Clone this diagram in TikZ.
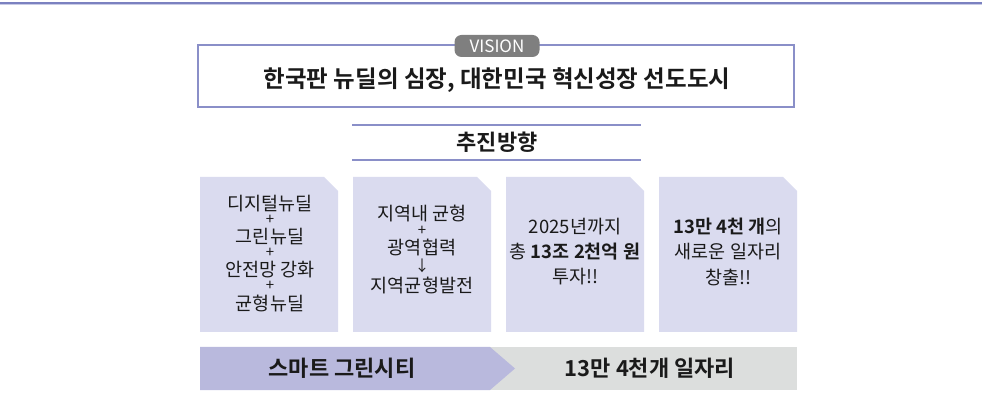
\documentclass[tikz,border=0pt]{standalone}
\usepackage{fontspec}
\setmainfont{Noto Sans CJK KR}[BoldFont={Noto Sans CJK KR Bold}]
\definecolor{rule}{HTML}{7B81C0}
\definecolor{rulelight}{HTML}{C8CBE6}
\definecolor{frame}{HTML}{8A8FC8}
\definecolor{boxfill}{HTML}{DADBEF}
\definecolor{barpurple}{HTML}{B9B9DD}
\definecolor{bargray}{HTML}{DCDEDD}
\definecolor{pill}{HTML}{7F7F7F}
\definecolor{ink}{HTML}{1A1A1A}
\begin{document}
\begin{tikzpicture}[x=1pt,y=-1pt,
  boxtext/.style={font=\fontsize{18.5}{21}\selectfont, text=ink, inner sep=0pt, anchor=center},
  plustext/.style={font=\fontsize{15}{16}\selectfont, text=ink, inner sep=0pt, anchor=center},
  bartext/.style={font=\fontsize{22}{26}\selectfont\bfseries, text=ink, inner sep=0pt},
  cutbox/.style={fill=boxfill, draw=none}
]
\useasboundingbox (0,0) rectangle (982,411);
% top rule
\draw[rule, line width=1.3pt] (0,3) -- (982,3);
\draw[rulelight, line width=1pt] (0,4.6) -- (982,4.6);
% vision frame
\draw[frame, line width=2pt] (198,45) rectangle (794,107);
\node[fill=pill, rounded corners=7pt, text=white, font=\fontsize{17}{18}\selectfont,
      minimum height=22pt, minimum width=85pt, inner sep=0pt] (vision) at (497,46) {VISION};
\node[font=\fontsize{23.5}{27}\selectfont\bfseries, text=ink, inner sep=0pt] (title) at (497,80)
  {한국판 뉴딜의 심장, 대한민국 혁신성장 선도도시};
% direction header
\draw[frame, line width=2pt] (352,125) -- (641,125);
\draw[frame, line width=2pt] (352,160) -- (641,160);
\node[font=\fontsize{22}{26}\selectfont\bfseries, text=ink, inner sep=0pt] (dir) at (497,142) {추진방향};
% four boxes with cut corner
\fill[cutbox] (200,177) -- (324,177) -- (338,191) -- (338,332) -- (200,332) -- cycle;
\fill[cutbox] (353,177) -- (477,177) -- (491,191) -- (491,332) -- (353,332) -- cycle;
\fill[cutbox] (506,177) -- (630,177) -- (644,191) -- (644,332) -- (506,332) -- cycle;
\fill[cutbox] (659,177) -- (783,177) -- (797,191) -- (797,332) -- (659,332) -- cycle;
% box 1
\node[boxtext] (a1) at (270,204) {디지털뉴딜};
\node[plustext] (a1p) at (270,220) {+};
\node[boxtext] (a2) at (270,237) {그린뉴딜};
\node[plustext] (a2p) at (270,253) {+};
\node[boxtext] (a3) at (270,270) {안전망 강화};
\node[plustext] (a3p) at (270,286) {+};
\node[boxtext] (a4) at (270,303) {균형뉴딜};
% box 2
\node[boxtext] (b1) at (422,214) {지역내 균형};
\node[plustext] (b1p) at (422,231) {+};
\node[boxtext] (b2) at (422,248) {광역협력};
\node[plustext] (b2p) at (422,266) {↓};
\node[boxtext] (b3) at (422,285) {지역균형발전};
% box 3
\node[boxtext] (c1) at (575,227) {2025년까지};
\node[boxtext] (c2) at (575,252) {총 \textbf{13조 2천억 원}};
\node[boxtext] (c3) at (575,277) {투자!!};
% box 4
\node[boxtext] (d1) at (728,227) {\textbf{13만 4천 개}의};
\node[boxtext] (d2) at (728,252) {새로운 일자리};
\node[boxtext] (d3) at (728,277) {창출!!};
% bottom bar
\fill[bargray] (488,347) rectangle (797,390);
\fill[barpurple] (200,347) -- (490,347) -- (515,368.5) -- (490,390) -- (200,390) -- cycle;
\node[bartext] (smart) at (342,368) {스마트 그린시티};
\node[bartext] (jobs) at (650,368) {13만 4천개 일자리};
\end{tikzpicture}
\end{document}
